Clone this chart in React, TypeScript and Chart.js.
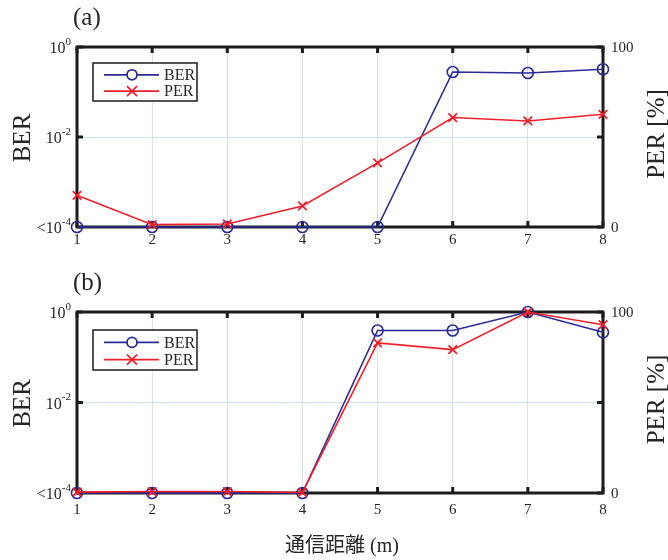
import React, { useEffect, useRef } from "react";
import { Chart, registerables } from "chart.js";
Chart.register(...registerables);

const distances = [1, 2, 3, 4, 5, 6, 7, 8];
const berA = [1e-4, 1e-4, 1e-4, 1e-4, 1e-4, 0.278, 0.264, 0.32];
const perA = [17.6, 1.3, 1.7, 11.7, 35.6, 60.8, 58.9, 62.6];
const berB = [1e-4, 1e-4, 1e-4, 1e-4, 0.39, 0.39, 1.0, 0.355];
const perB = [0.5, 0.8, 0.8, 0.3, 82.9, 79.2, 100, 93];

const berTickValues = [1e-4, 1e-2, 1];
const berTickBase = ["<10", "10", "10"];
const berTickExp = ["-4", "-2", "0"];
const perTickValues = [0, 100];
const perTickLabels = ["0", "100"];
const seriesNames = ["BER", "PER"];
const panelLabels = ["(a)", "(b)"];
const xTitle = "通信距離 (m)";
const yLeftTitle = "BER";
const yRightTitle = "PER [%]";

const BLUE = "#2a2a98";
const RED = "#f0202a";
const INK = "#1c1c1c";
const TXT = "#262626";
const SERIF = '"Liberation Serif", "Times New Roman", serif';

type PanelCfg = {
  idx: number;
  height: number;
  topPad: number;
  xAxisH: number;
  xLabelOff: number;
  titleY: number | null;
  legendTop: number;
  legendH: number;
  ber: number[];
  per: number[];
};

const panels: PanelCfg[] = [
  { idx: 0, height: 268, topPad: 47, xAxisH: 41, xLabelOff: 13, titleY: null, legendTop: 16, legendH: 38, ber: berA, per: perA },
  { idx: 1, height: 292, topPad: 44, xAxisH: 67, xLabelOff: 17, titleY: 279, legendTop: 18, legendH: 40, ber: berB, per: perB },
];

function makePlugin(p: PanelCfg) {
  return {
    id: "customDraw" + p.idx,
    beforeDatasetsDraw(chart: any) {
      const { ctx, chartArea, scales } = chart;
      const { left, right, top, bottom } = chartArea;
      ctx.save();
      ctx.strokeStyle = INK;
      ctx.lineWidth = 3;
      ctx.lineCap = "butt";
      const seg = (x1: number, y1: number, x2: number, y2: number) => {
        ctx.beginPath();
        ctx.moveTo(x1, y1);
        ctx.lineTo(x2, y2);
        ctx.stroke();
      };
      distances.forEach((d) => {
        const px = scales.x.getPixelForValue(d);
        seg(px, top, px, top + 6);
        seg(px, bottom, px, bottom - 6);
      });
      berTickValues.forEach((v) => {
        const py = scales.y.getPixelForValue(v);
        seg(left, py, left + 6, py);
        seg(right, py, right - 6, py);
      });
      ctx.strokeRect(left, top, right - left, bottom - top);
      ctx.restore();
    },
    afterDraw(chart: any) {
      const { ctx, chartArea, scales } = chart;
      const { left, right, top, bottom } = chartArea;
      ctx.save();
      ctx.fillStyle = TXT;
      ctx.textBaseline = "middle";
      // x tick labels
      ctx.font = `15px ${SERIF}`;
      ctx.textAlign = "center";
      distances.forEach((d) => {
        ctx.fillText(String(d), scales.x.getPixelForValue(d), bottom + p.xLabelOff);
      });
      // left tick labels with superscripts
      berTickValues.forEach((v, i) => {
        const py = scales.y.getPixelForValue(v);
        ctx.font = `11px ${SERIF}`;
        const we = ctx.measureText(berTickExp[i]).width;
        ctx.font = `16px ${SERIF}`;
        const wb = ctx.measureText(berTickBase[i]).width;
        const xEnd = left - 6;
        ctx.textAlign = "left";
        ctx.fillText(berTickBase[i], xEnd - we - wb, py + 2);
        ctx.font = `11px ${SERIF}`;
        ctx.fillText(berTickExp[i], xEnd - we, py - 5);
      });
      // right tick labels
      ctx.font = `15px ${SERIF}`;
      ctx.textAlign = "left";
      perTickValues.forEach((v, i) => {
        ctx.fillText(perTickLabels[i], right + 8, scales.y2.getPixelForValue(v) + 1);
      });
      // axis titles
      ctx.font = `25px ${SERIF}`;
      ctx.textAlign = "center";
      const midY = (top + bottom) / 2;
      ctx.save();
      ctx.translate(23, midY + 1);
      ctx.rotate(-Math.PI / 2);
      ctx.fillText(yLeftTitle, 0, 0);
      ctx.restore();
      ctx.save();
      ctx.translate(657, midY - 3);
      ctx.rotate(-Math.PI / 2);
      ctx.fillText(yRightTitle, 0, 0);
      ctx.restore();
      // panel label
      ctx.font = `25px ${SERIF}`;
      ctx.textAlign = "left";
      ctx.fillText(panelLabels[p.idx], 73, top - 29);
      // x title
      if (p.titleY !== null) {
        ctx.font = `20px "Liberation Serif", "Noto Sans CJK JP", serif`;
        ctx.textAlign = "center";
        ctx.fillText(xTitle, 342, p.titleY);
      }
      // legend
      const bx = left + 16;
      const by = top + p.legendTop;
      const bw = 104;
      const bh = p.legendH;
      ctx.fillStyle = "#ffffff";
      ctx.fillRect(bx, by, bw, bh);
      ctx.strokeStyle = INK;
      ctx.lineWidth = 1.5;
      ctx.strokeRect(bx, by, bw, bh);
      const rows = [by + bh * 0.31, by + bh * 0.74];
      const colors = [BLUE, RED];
      rows.forEach((ry, i) => {
        ctx.strokeStyle = colors[i];
        ctx.lineWidth = 1.8;
        ctx.beginPath();
        ctx.moveTo(bx + 11, ry);
        ctx.lineTo(bx + 66, ry);
        ctx.stroke();
        const mx = bx + 39;
        if (i === 0) {
          ctx.fillStyle = "#ffffff";
          ctx.beginPath();
          ctx.arc(mx, ry, 5, 0, Math.PI * 2);
          ctx.fill();
          ctx.stroke();
        } else {
          const r = 5;
          ctx.beginPath();
          ctx.moveTo(mx - r, ry - r);
          ctx.lineTo(mx + r, ry + r);
          ctx.moveTo(mx + r, ry - r);
          ctx.lineTo(mx - r, ry + r);
          ctx.stroke();
        }
        ctx.fillStyle = TXT;
        ctx.font = `16px ${SERIF}`;
        ctx.textAlign = "left";
        ctx.fillText(seriesNames[i], bx + 71, ry + 1);
      });
      ctx.restore();
    },
  };
}

function Panel({ cfg }: { cfg: PanelCfg }) {
  const ref = useRef<HTMLCanvasElement | null>(null);
  useEffect(() => {
    if (!ref.current) return;
    const chart = new Chart(ref.current, {
      type: "line",
      data: {
        datasets: [
          {
            label: seriesNames[1],
            data: distances.map((d, i) => ({ x: d, y: cfg.per[i] })),
            yAxisID: "y2",
            borderColor: RED,
            backgroundColor: RED,
            borderWidth: 1.6,
            pointStyle: "crossRot",
            pointRadius: 6,
            pointBorderWidth: 1.8,
            pointBorderColor: RED,
            tension: 0,
            clip: false,
            order: 0,
          },
          {
            label: seriesNames[0],
            data: distances.map((d, i) => ({ x: d, y: cfg.ber[i] })),
            yAxisID: "y",
            borderColor: BLUE,
            backgroundColor: "rgba(0,0,0,0)",
            borderWidth: 1.6,
            pointStyle: "circle",
            pointRadius: 5.5,
            pointBorderWidth: 1.6,
            pointBorderColor: BLUE,
            pointBackgroundColor: "rgba(0,0,0,0)",
            tension: 0,
            clip: false,
            order: 1,
          },
        ],
      } as any,
      options: {
        animation: false,
        responsive: false,
        devicePixelRatio: 1,
        layout: { padding: { top: cfg.topPad, left: 0, right: 0, bottom: 0 } },
        plugins: { legend: { display: false }, tooltip: { enabled: false } },
        events: [],
        scales: {
          x: {
            type: "linear",
            min: 1,
            max: 8,
            afterBuildTicks: (s: any) => {
              s.ticks = distances.map((d) => ({ value: d }));
            },
            afterFit: (s: any) => {
              s.height = cfg.xAxisH;
            },
            ticks: { display: false },
            grid: { color: "#dde2e8", lineWidth: 1, drawTicks: false },
            border: { display: false },
          },
          y: {
            type: "logarithmic",
            position: "left",
            min: 1e-4,
            max: 1,
            afterBuildTicks: (s: any) => {
              s.ticks = berTickValues.map((v) => ({ value: v }));
            },
            afterFit: (s: any) => {
              s.width = 77;
            },
            ticks: { display: false },
            grid: {
              color: (c: any) => (c.tick && c.tick.value === 1e-2 ? "#c9e1f1" : "rgba(0,0,0,0)"),
              lineWidth: 1,
              drawTicks: false,
            },
            border: { display: false },
          },
          y2: {
            type: "linear",
            position: "right",
            min: 0,
            max: 100,
            afterBuildTicks: (s: any) => {
              s.ticks = perTickValues.map((v) => ({ value: v }));
            },
            afterFit: (s: any) => {
              s.width = 65;
            },
            ticks: { display: false },
            grid: { display: false, drawTicks: false },
            border: { display: false },
          },
        },
      } as any,
      plugins: [makePlugin(cfg)],
    });
    return () => chart.destroy();
  }, [cfg]);
  return (
    <canvas ref={ref} width={668} height={cfg.height} style={{ display: "block", width: 668, height: cfg.height }} />
  );
}

export default function App() {
  return (
    <div style={{ position: "absolute", left: 0, top: 0, width: 668, height: 560, background: "#ffffff" }}>
      {panels.map((p) => (
        <Panel key={p.idx} cfg={p} />
      ))}
    </div>
  );
}
